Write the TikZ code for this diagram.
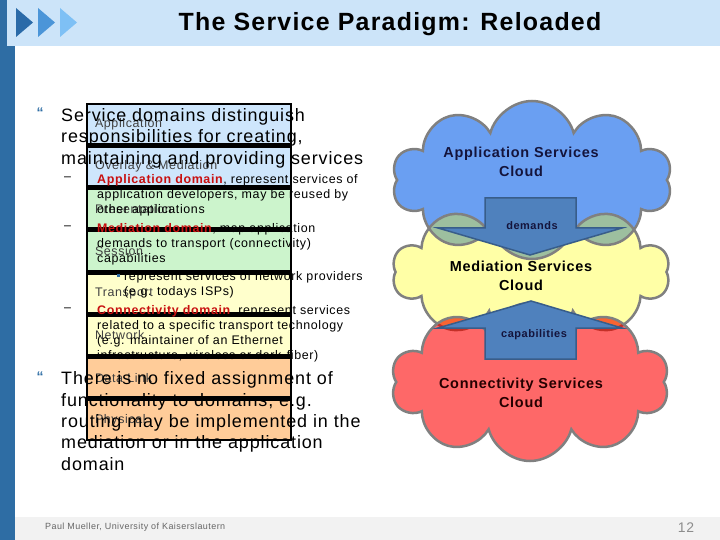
\documentclass[tikz,border=0pt]{standalone}
\usepackage{fontspec}
\setmainfont{Liberation Sans}[LetterSpace=5]
\usetikzlibrary{positioning,shapes.symbols}
\definecolor{slidebar}{RGB}{46,109,164}
\definecolor{titleband}{RGB}{204,228,249}
\definecolor{chevdark}{RGB}{42,106,168}
\definecolor{chevmid}{RGB}{75,149,216}
\definecolor{chevlight}{RGB}{126,192,245}
\definecolor{footband}{RGB}{242,242,242}
\definecolor{domred}{RGB}{200,16,16}
\definecolor{layblue}{RGB}{206,230,252}
\definecolor{laygreen}{RGB}{204,244,204}
\definecolor{layyellow}{RGB}{255,255,204}
\definecolor{layorange}{RGB}{255,204,153}
\definecolor{cloudblue}{RGB}{106,159,242}
\definecolor{cloudyellow}{RGB}{255,255,166}
\definecolor{cloudred}{RGB}{254,104,104}
\definecolor{mixgreen}{RGB}{157,191,159}
\definecolor{mixorange}{RGB}{248,100,50}
\definecolor{mixedge}{RGB}{196,48,40}
\definecolor{arrowfill}{RGB}{79,129,189}
\definecolor{arrowedge}{RGB}{56,93,138}
\definecolor{arrowtext}{RGB}{20,20,60}

\begin{document}
\begin{tikzpicture}[x=1bp,y=-1bp,
  layerbox/.style={draw=black,line width=2.5bp,minimum width=204bp,minimum height=39.8bp,
                   text width=188bp,inner xsep=8bp,align=left,text=black!75,
                   font=\fontsize{12.5}{14}\selectfont},
  cloudbase/.style={cloud,cloud puffs=10,cloud ignores aspect,draw=gray,line width=2.5bp,inner sep=0pt},
  cloudlabel/.style={align=center,font=\fontsize{14.5}{19}\selectfont\bfseries},
  arrowlabel/.style={text=arrowtext,font=\fontsize{11}{13}\selectfont\bfseries},
  mainpar/.style={anchor=north west,align=left,inner sep=0pt,font=\fontsize{18}{21.5}\selectfont},
  subpar/.style={anchor=north west,align=left,inner sep=0pt,font=\fontsize{12.5}{15}\selectfont},
  dashmark/.style={anchor=west,inner sep=0pt,font=\fontsize{12.5}{15}\selectfont},
  quotemark/.style={text=slidebar,inner sep=0pt,font=\fontsize{14}{14}\selectfont\bfseries},
  blockarrow/.style={fill=arrowfill,draw=arrowedge,line width=1.5bp}]
  \useasboundingbox (0,0) rectangle (720,540);

  % slide frame
  \fill[titleband] (7,0) rectangle (720,46);
  \fill[slidebar] (0,0) rectangle (7,46);
  \fill[slidebar] (0,46) rectangle (15,540);
  \fill[footband] (15,517) rectangle (720,540);
  \fill[chevdark] (16,8) -- (33,22.5) -- (16,37) -- cycle;
  \fill[chevmid] (38,8) -- (55,22.5) -- (38,37) -- cycle;
  \fill[chevlight] (60,8) -- (77,22.5) -- (60,37) -- cycle;
  \node[font=\fontsize{25}{28}\selectfont\bfseries] (title) at (390,24)
    {The Service Paradigm: Reloaded};

  % layer stack
  \node[layerbox,fill=layblue] (app) at (189,124) {Application};
  \node[layerbox,fill=layblue,below=0bp of app] (overlay) {Overlay \& Mediation};
  \node[layerbox,fill=laygreen,below=0bp of overlay] (pres) {Presentation};
  \node[layerbox,fill=laygreen,below=0bp of pres] (sess) {Session};
  \node[layerbox,fill=layyellow,below=0bp of sess] (trans) {Transport};
  \node[layerbox,fill=layyellow,below=0bp of trans] (net) {Network};
  \node[layerbox,fill=layorange,below=0bp of net] (link) {Data Link};
  \node[layerbox,fill=layorange,below=0bp of link] (phys) {Physical};

  % bullet text
  \node[quotemark] (q1) at (40,113) {“};
  \node[mainpar] (p1) at (61,108)
    {Service domains distinguish\\responsibilities for creating,\\maintaining and providing services};
  \node[dashmark] (d1) at (64,179) {–};
  \node[subpar] (s1) at (97,174.5)
    {\textcolor{domred}{\textbf{Application domain}}, represent services of\\application developers, may be reused by\\other applications};
  \node[dashmark] (d2) at (64,228) {–};
  \node[subpar] (s2) at (97,223.5)
    {\textcolor{domred}{\textbf{Mediation domain}}, map application\\demands to transport (connectivity)\\capabilities};
  \node[fill=slidebar,inner sep=0pt,minimum size=3bp] (sq) at (118,275) {};
  \node[subpar] (s3) at (124,271.5)
    {represent services of network providers\\(e.g. todays ISPs)};
  \node[dashmark] (d3) at (64,310) {–};
  \node[subpar] (s4) at (97,305.5)
    {\textcolor{domred}{\textbf{Connectivity domain}}, represent services\\related to a specific transport technology\\(e.g. maintainer of an Ethernet\\infrastructure, wireless or dark-fiber)};
  \node[quotemark] (q2) at (40,377) {“};
  \node[mainpar] (p2) at (61,371.5)
    {There is no fixed assignment of\\functionality to domains, e.g.\\routing may be implemented in the\\mediation or in the application\\domain};

  % service clouds
  \node[cloudbase,fill=cloudblue,minimum width=280bp,minimum height=158bp] (appcloud) at (532,180) {};
  \node[cloudbase,fill=cloudyellow,minimum width=277bp,minimum height=142bp,
        path picture={\node[cloudbase,fill=mixgreen,minimum width=280bp,minimum height=158bp] at (appcloud.center) {};}]
        (medcloud) at (531,272) {};
  \node[cloudbase,fill=cloudred,minimum width=278bp,minimum height=158bp,
        path picture={\node[cloudbase,draw=mixedge,fill=mixorange,minimum width=277bp,minimum height=142bp] at (medcloud.center) {};}]
        (concloud) at (530,382) {};
  \node[cloudlabel,text=arrowtext] (applabel) at (521,162) {Application Services\\Cloud};
  \node[cloudlabel] (medlabel) at (521,276) {Mediation Services\\Cloud};
  \node[cloudlabel,text=black!85!red] (conlabel) at (521,393) {Connectivity Services\\Cloud};

  % demands / capabilities
  \draw[blockarrow] (485,198) -- (576,198) -- (576,228) -- (622,228) -- (530,255)
    -- (438,228) -- (485,228) -- cycle;
  \node[arrowlabel] (demands) at (532,226) {demands};
  \draw[blockarrow] (485,359) -- (576,359) -- (576,328) -- (622,328) -- (531,301)
    -- (438,328) -- (485,328) -- cycle;
  \node[arrowlabel] (capab) at (534,335) {capabilities};

  % footer
  \node[anchor=west,inner sep=0pt,text=black!60,font=\fontsize{9}{10}\selectfont] (author) at (45,527.5)
    {Paul Mueller, University of Kaiserslautern};
  \node[text=black!45,font=\fontsize{14}{16}\selectfont] (page) at (686,528) {12};
\end{tikzpicture}
\end{document}
